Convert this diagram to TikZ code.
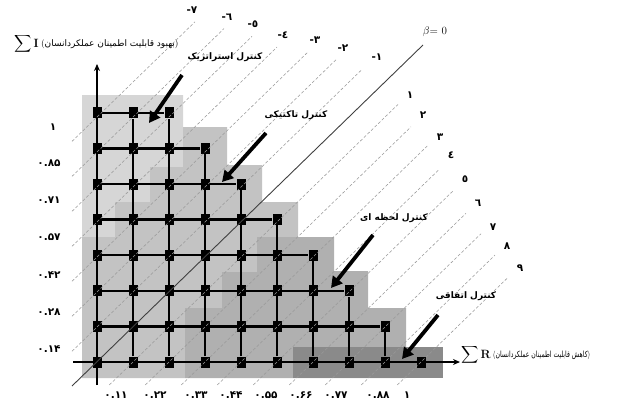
\documentclass[tikz,border=0pt]{standalone}
\usepackage{exscale}
\usepackage{fontspec}
\usepackage{tikz}
\usetikzlibrary{arrows.meta,positioning,calc}
\TeXXeTstate=1
\newfontfamily\arabicfont[Script=Arabic]{DejaVu Sans}
\newfontfamily\latinfont{DejaVu Sans}
\newcommand{\isominus}{{\latinfont\bfseries -}}
\definecolor{stratgray}{RGB}{214,214,214}
\definecolor{tactgray}{RGB}{195,195,195}
\definecolor{momgray}{RGB}{176,176,176}
\definecolor{accgray}{RGB}{138,138,138}
\tikzset{
  gridpt/.style={
    rectangle, fill=black, minimum width=9pt, minimum height=11pt,
    inner sep=0pt
  },
  gridln/.style={line width=2.4pt, draw=black},
  axisln/.style={line width=1.8pt, draw=black, -{Stealth[length=7pt,width=6pt]}},
  betaln/.style={draw=black!75, line width=0.9pt},
  isoln/.style={draw=black!40, line width=0.55pt, dash pattern=on 3pt off 2pt},
  ctrlarrow/.style={line width=3.8pt, draw=black, -{Triangle[length=11pt,width=12pt]}},
  ctrllabel/.style={font=\arabicfont\bfseries\fontsize{9}{10}\selectfont, inner sep=0pt},
  ticklabel/.style={font=\arabicfont\bfseries\fontsize{10.5}{11}\selectfont, inner sep=0pt},
  sumlabel/.style={font=\fontsize{13}{15}\selectfont, inner sep=0pt},
}

\begin{document}
\begin{tikzpicture}[x=1pt, y=-1pt]
  \useasboundingbox (0,0) rectangle (640,407);

  % control regions
  \fill[stratgray] (82,95) -| (183,167) -| (150,202) -| (115,237) -| (82,95) -- cycle;
  \fill[tactgray] (183,127) -| (227,165) -| (262,202) -| (298,237) -| (257,272)
    -| (222,308) -| (185,378) -| (82,237) -| (115,202) -| (150,167) -| (183,127) -- cycle;
  \fill[momgray] (257,237) -| (334,271) -| (368,308) -| (406,378) -| (185,308)
    -| (222,272) -| (257,237) -- cycle;
  \fill[accgray] (293,347) rectangle (443,378);

  % grid of points
  \foreach \j in {0,...,7} {
    \pgfmathtruncatemacro{\m}{9-\j}
    \foreach \k in {0,...,\m}
      \node[gridpt] (g-\k-\j) at ({97+36*\k},{362-35.6*\j}) {};
  }
  \foreach \j in {1,...,7} {
    \pgfmathtruncatemacro{\m}{9-\j}
    \draw[gridln] (g-0-\j) -- (g-\m-\j);
  }
  \foreach \k in {1,...,9} {
    \pgfmathtruncatemacro{\t}{min(7,9-\k)}
    \ifnum\t>0 \draw[gridln] (g-\k-0) -- (g-\k-\t); \fi
  }

  % axes
  \coordinate (ybot) at (97,385);
  \coordinate (ytop) at (97,64);
  \coordinate (xlft) at (73,362);
  \coordinate (xrgt) at (460,362);
  \draw[axisln] (ybot) -- (ytop);
  \draw[axisln] (xlft) -- (xrgt);

  % iso lines
  \foreach \k/\ex in {-7/195,-6/224,-5/252,-4/277,-3/308,-2/336,-1/362}
    \draw[isoln] (72,{362-(72-97-36*\k)*0.972}) -- (\ex,{362-(\ex-97-36*\k)*0.972});
  \foreach \k/\ex in {1/398,2/411,3/428,4/439,5/453,6/466,7/481,8/495,9/508}
    \draw[isoln] ({97+36*\k-23.7},385) -- (\ex,{362-(\ex-97-36*\k)*0.972});
  \coordinate (b0) at (72,386);
  \coordinate (b1) at (423,45);
  \draw[betaln] (b0) -- (b1);

  % iso line labels
  \foreach \lab/\x/\y [count=\i] in {٧/192/10,٦/227/17,٥/253/24,٤/283/35,٣/315/40,٢/343/48,١/377/57}
    \node[ticklabel] (neg-\i) at (\x,\y) {\isominus\lab};
  \foreach \lab/\x/\y [count=\i] in {١/410/95,٢/423/115,٣/440/137,٤/451/155,٥/465/179,٦/478/203,٧/493/227,٨/507/246,٩/520/268}
    \node[ticklabel] (pos-\i) at (\x,\y) {\lab};
  \node[font=\fontsize{11}{12}\selectfont, inner sep=0pt] (beta) at (435,32) {$\beta$= 0};

  % axis values
  \foreach \lab/\x [count=\i] in {۰.۱۱/116,۰.۲۲/155,۰.۳۳/196,۰.۴۴/231,۰.۵۵/266,۰.۶۶/301,۰.۷۷/336,۰.۸۸/378,۱/407}
    \node[ticklabel] (xv-\i) at (\x,395) {\lab};
  \foreach \lab/\x/\y [count=\i] in {۱/53/127,۰.۸۵/49/163,۰.۷۱/49/200,۰.۵۷/49/237,۰.۴۲/49/275,۰.۲۸/49/312,۰.۱۴/49/349}
    \node[ticklabel] (yv-\i) at (\x,\y) {\lab};

  % axis titles
  \node[sumlabel, anchor=west] (ysum) at (14,44)
    {$\displaystyle\sum$\,{\fontsize{12}{14}\selectfont\textbf{I}}};
  \node[inner sep=0pt, anchor=west, right=2pt of ysum, font=\fontsize{9}{10}\selectfont] (ytitle)
    {({\arabicfont\beginR بهبود قابلیت اطمینان عملکردانسان\endR})};
  \node[sumlabel, anchor=west] (xsum) at (461,355)
    {$\displaystyle\sum$\,{\fontsize{12}{14}\selectfont\textbf{R}}};
  \node[inner sep=0pt, anchor=west, right=2pt of xsum, font=\fontsize{8.5}{10}\selectfont] (xtitle)
    {\scalebox{0.72}[1]{({\arabicfont\beginR کاهش قابلیت اطمینان عملکردانسان\endR})}};

  % control arrows
  \node[ctrllabel] (strat) at (225,57) {\beginR کنترل استراتژیک\endR};
  \node[ctrllabel] (tact) at (296,115) {\beginR کنترل تاکتیکی\endR};
  \node[ctrllabel] (mom) at (394,218) {\beginR کنترل لحظه ای\endR};
  \node[ctrllabel] (acc) at (466,296) {\beginR کنترل اتفاقی\endR};
  \coordinate (strat-t) at (182,75);  \coordinate (strat-h) at (149,123);
  \coordinate (tact-t) at (266,133);  \coordinate (tact-h) at (222,182);
  \coordinate (mom-t) at (373,235);   \coordinate (mom-h) at (331,288);
  \coordinate (acc-t) at (438,315);   \coordinate (acc-h) at (402,359);
  \draw[ctrlarrow] (strat-t) -- (strat-h);
  \draw[ctrlarrow] (tact-t) -- (tact-h);
  \draw[ctrlarrow] (mom-t) -- (mom-h);
  \draw[ctrlarrow] (acc-t) -- (acc-h);
\end{tikzpicture}
\end{document}
